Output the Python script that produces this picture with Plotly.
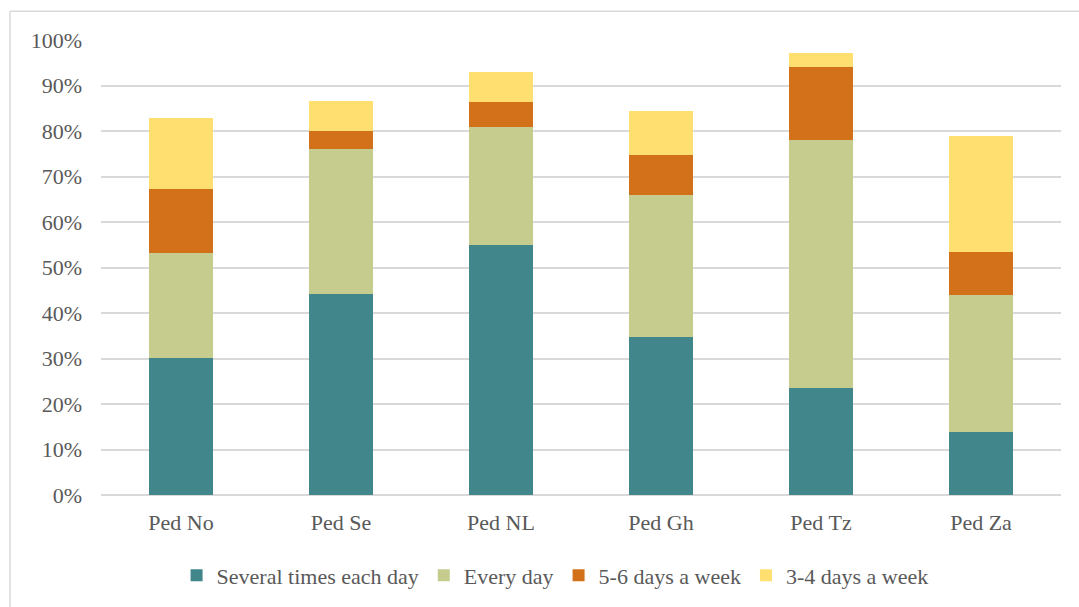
import plotly.graph_objects as go

categories = ["Ped No", "Ped Se", "Ped NL", "Ped Gh", "Ped Tz", "Ped Za"]
several_times = [30.1, 44.2, 54.9, 34.7, 23.5, 13.8]
every_day = [23.1, 31.8, 26.0, 31.2, 54.5, 30.2]
five_six = [14.1, 4.0, 5.5, 8.8, 16.1, 9.4]
three_four = [15.6, 6.6, 6.6, 9.7, 3.0, 25.5]

series = [
    ("Several times each day", several_times, "#40868A"),
    ("Every day", every_day, "#C5CC8E"),
    ("5-6 days a week", five_six, "#D3711B"),
    ("3-4 days a week", three_four, "#FFDF70"),
]

FONT = "Liberation Serif, DejaVu Serif, serif"
fig = go.Figure()
for name, vals, col in series:
    fig.add_trace(go.Bar(
        x=categories, y=[v / 100 for v in vals], name=name,
        marker=dict(color=col, line=dict(width=0)), width=0.4,
    ))

fig.update_layout(
    barmode="stack",
    width=1079, height=607,
    margin=dict(l=101, r=18, t=40, b=111),
    paper_bgcolor="white", plot_bgcolor="white",
    font=dict(family=FONT, size=22, color="#595959"),
    showlegend=True,
    legend=dict(orientation="h", x=0.473, xanchor="center", y=-0.174, yanchor="middle",
                font=dict(family=FONT, size=22, color="#595959"),
                itemwidth=30, traceorder="normal", tracegroupgap=0),
    xaxis=dict(showgrid=False, showline=False, ticks="", ticklabelstandoff=12,
               tickfont=dict(family=FONT, size=22, color="#595959")),
    yaxis=dict(range=[0, 1.0], dtick=0.1, tickformat=".0%", showgrid=True,
               gridcolor="#D9D9D9", gridwidth=1.5, zeroline=True, zerolinecolor="#D9D9D9",
               zerolinewidth=1.5, showline=False, ticks="", ticklabelstandoff=18,
               tickfont=dict(family=FONT, size=22, color="#595959")),
    shapes=[
        dict(type="line", xref="paper", yref="paper", x0=-0.0948, x1=1.1, y0=1.0632, y1=1.0632,
             line=dict(color="#D9D9D9", width=1.5)),
        dict(type="line", xref="paper", yref="paper", x0=-0.0948, x1=-0.0948, y0=1.0632, y1=-0.3,
             line=dict(color="#D9D9D9", width=1.5)),
    ],
)
fig.write_html("out.html")
